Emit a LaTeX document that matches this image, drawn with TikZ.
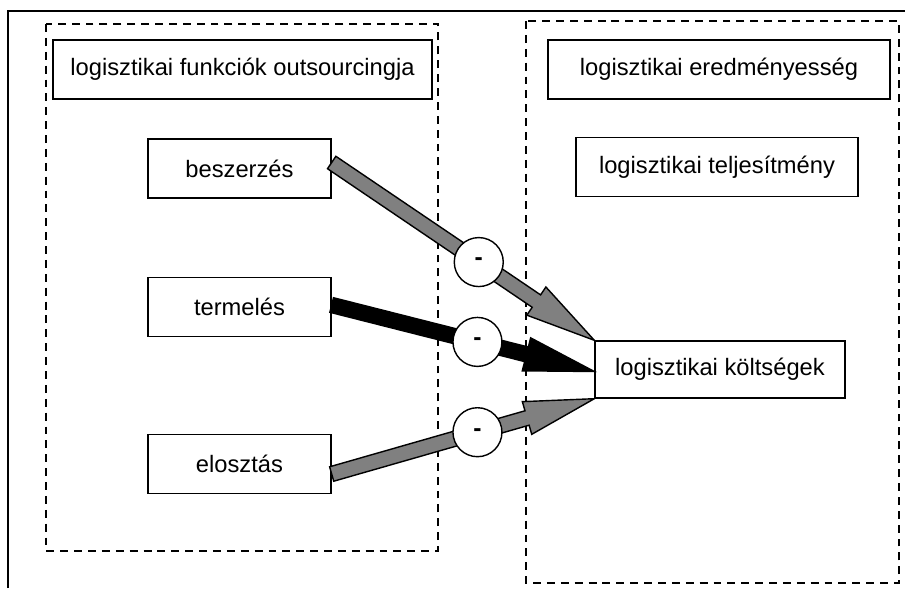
\documentclass[tikz,border=0pt]{standalone}
\usepackage{fontspec}
\setmainfont{Liberation Sans}
\usetikzlibrary{calc}

% fat arrow: #1 fill, #2 tail, #3 tip
\newcommand{\fatarrow}[3]{%
  \coordinate (fah) at ($(#3)!1.4cm!(#2)$);
  \filldraw[fill=#1,line width=0.8pt,line join=miter]
    ($(#2)!0.15cm!90:(#3)$) -- ($(fah)!0.15cm!90:(#3)$) -- ($(fah)!0.34cm!90:(#3)$) -- (#3)
    -- ($(fah)!0.34cm!-90:(#3)$) -- ($(fah)!0.15cm!-90:(#3)$) -- ($(#2)!0.15cm!-90:(#3)$) -- cycle;
}

\begin{document}
\begin{tikzpicture}[x=0.02cm,y=-0.02cm,font=\fontsize{13.5}{16}\selectfont,
  box/.style={draw,line width=0.8pt,fill=white,inner sep=0pt,minimum height=1.18cm},
  group/.style={draw,dashed,line width=1.2pt,dash pattern=on 4.5pt off 3.4pt},
  minus/.style={draw,circle,fill=white,line width=0.8pt,minimum size=0.98cm,inner sep=0pt,font=\fontsize{14}{16}\selectfont\bfseries}]
\useasboundingbox (0,0) rectangle (905,588);
\draw[line width=1.2pt] (8,588) -- (8,11) -- (905,11);
\draw[group] (46,24) rectangle (438,551);
\draw[group] (526,21) rectangle (899,583);
% boxes
\node[box,minimum width=7.58cm] (outs) at (242.5,69.5) {logisztikai funkciók outsourcingja};
\node[box,minimum width=6.84cm] (ered) at (719,69.5) {logisztikai eredményesség};
\node[box,minimum width=5.64cm] (telj) at (717,167) {logisztikai teljesítmény};
\node[box,minimum width=3.66cm] (besz) at (239.5,168.5) {beszerzés};
\node[box,minimum width=3.66cm] (term) at (239.5,307) {termelés};
\node[box,minimum width=3.66cm] (elo) at (239.5,464) {elosztás};
\node[box,minimum width=5cm,minimum height=1.14cm] (kolt) at (720,369.5) {logisztikai költségek};
\coordinate (beszout) at ($(besz.east)+(0,-6)$);
\coordinate (termout) at ($(term.east)+(0,-2)$);
\coordinate (eloout) at ($(elo.east)+(0,10)$);
\coordinate (koltin) at ($(kolt.west)+(0,2)$);
% arrows
\fatarrow{gray}{beszout}{kolt.north west}
\fatarrow{black}{termout}{koltin}
\fatarrow{gray}{eloout}{kolt.south west}
\node[minus] (m1) at ($(beszout)!0.56!(kolt.north west)$) {-};
\node[minus] (m2) at ($(termout)!0.555!(koltin)$) {-};
\node[minus] (m3) at ($(eloout)!0.555!(kolt.south west)$) {-};
\end{tikzpicture}
\end{document}
